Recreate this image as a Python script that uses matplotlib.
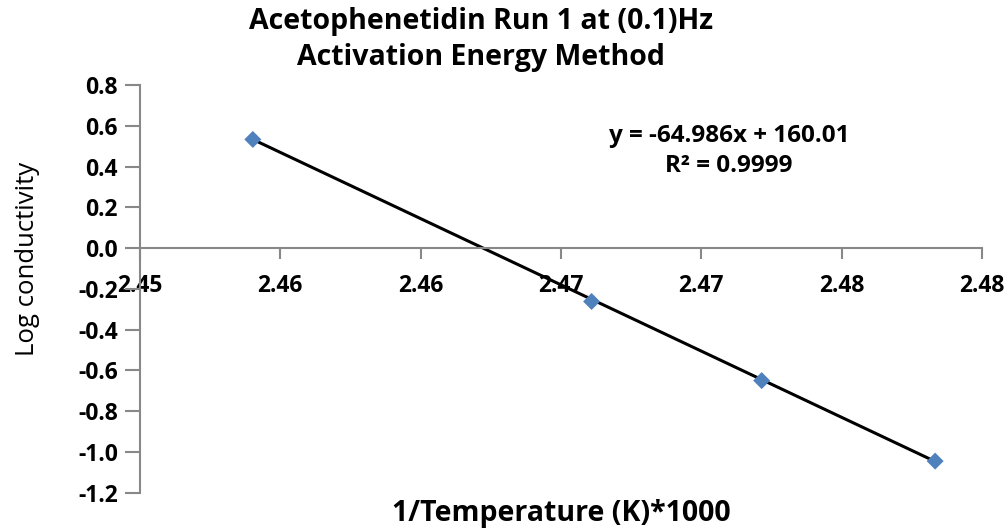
import matplotlib
matplotlib.use("Agg")
import matplotlib.pyplot as plt
import numpy as np

# Inverse temperature (1/K * 1000) and log conductivity
inv_temp = [2.45402, 2.46609, 2.47215, 2.47833]
log_cond = [0.533, -0.262, -0.650, -1.045]

# Linear trendline coefficients
slope = -64.986
intercept = 160.01
r_squared = 0.9999

x_ticks = [2.450, 2.455, 2.460, 2.465, 2.470, 2.475, 2.480]
x_tick_labels = ["2.45", "2.46", "2.46", "2.47", "2.47", "2.48", "2.48"]
y_ticks = [-1.2, -1.0, -0.8, -0.6, -0.4, -0.2, 0.0, 0.2, 0.4, 0.6, 0.8]

plt.rcParams['font.family'] = ['Open Sans', 'DejaVu Sans']

W, H = 1008, 529
fig = plt.figure(figsize=(W / 100, H / 100), dpi=100)
ax = fig.add_axes([140 / W, 1 - 492.7 / H, (982 - 140) / W, (492.7 - 85) / H])

# trendline across the span of the data
xl = np.array([min(inv_temp), max(inv_temp)])
ax.plot(xl, slope * xl + intercept, color='black', lw=2.2, zorder=2)
ax.scatter(inv_temp, log_cond, marker='D', s=75, color='#4F81BD',
           edgecolors='none', zorder=3)

ax.set_xlim(2.450, 2.480)
ax.set_ylim(-1.2, 0.8)

ax.set_xticks(x_ticks)
ax.set_xticklabels(x_tick_labels)
ax.set_yticks(y_ticks)
ax.set_yticklabels([f"{v:.1f}" for v in y_ticks])

for s in ('top', 'right'):
    ax.spines[s].set_visible(False)
ax.spines['bottom'].set_position(('data', 0))
for s in ('left', 'bottom'):
    ax.spines[s].set_color('#888888')
    ax.spines[s].set_linewidth(1.5)

ax.tick_params(axis='x', direction='out', length=8, width=1.5, color='#888888',
               labelsize=16.5, pad=11)
ax.tick_params(axis='y', direction='out', length=11, width=1.5, color='#888888',
               labelsize=16.5, pad=5)
for lbl in ax.get_xticklabels() + ax.get_yticklabels():
    lbl.set_fontweight('bold')

fig.text(481 / W, 1 - 21 / H, "Acetophenetidin Run 1 at (0.1)Hz", ha='center',
         va='center', fontsize=20.5, fontweight='bold')
fig.text(481 / W, 1 - 57 / H, "Activation Energy Method", ha='center',
         va='center', fontsize=20.5, fontweight='bold')

fig.text(561 / W, 1 - 514 / H, "1/Temperature (K)*1000", ha='center',
         va='center', fontsize=20.5, fontweight='bold')
fig.text(28 / W, 1 - 259 / H, "Log conductivity", ha='center', va='center',
         rotation=90, fontsize=18.5)

fig.text(729 / W, 1 - 136 / H, f"y = {slope}x + {intercept}", ha='center',
         va='center', fontsize=17.5, fontweight='bold')
fig.text(729 / W, 1 - 166 / H, f"R\u00b2 = {r_squared}", ha='center',
         va='center', fontsize=17.5, fontweight='bold')

fig.savefig("out.png", dpi=100)
